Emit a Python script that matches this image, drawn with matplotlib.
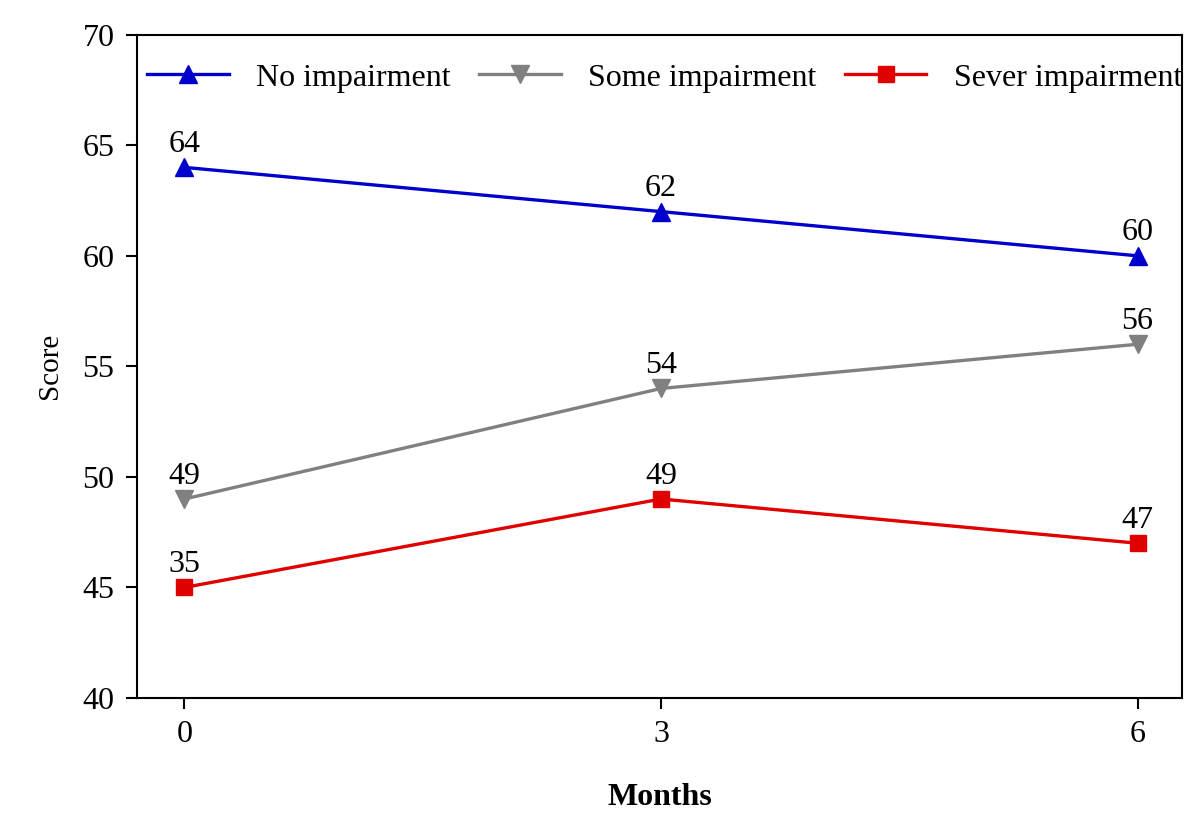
import matplotlib.pyplot as plt

months = [0, 3, 6]
no_imp = [64, 62, 60]
some_imp = [49, 54, 56]
sever_imp = [45, 49, 47]
# labels printed on the chart (the first red one reads 35 in the original)
no_lbl = ['64', '62', '60']
some_lbl = ['49', '54', '56']
sever_lbl = ['35', '49', '47']

plt.rcParams['font.family'] = ['Liberation Serif', 'DejaVu Serif']

fig = plt.figure(figsize=(12, 8.27), dpi=100)
ax = fig.add_axes([0.114, 0.156, 0.871, 0.802])

series = [
    (no_imp, no_lbl, '#0000CC', '^', 13, 'No impairment'),
    (some_imp, some_lbl, '#808080', 'v', 13, 'Some impairment'),
    (sever_imp, sever_lbl, '#E00000', 's', 11, 'Sever impairment'),
]
for vals, lbls, col, mk, ms, name in series:
    ax.plot(months, vals, color=col, marker=mk, markersize=ms, linewidth=2.4, label=name)
    for x, y, t in zip(months, vals, lbls):
        ax.annotate(t, (x, y), xytext=(0, 6), textcoords='offset points',
                    ha='center', va='bottom', fontsize=23)

ax.set_xlim(-0.3, 6.28)
ax.set_ylim(40, 70)
ax.set_xticks(months)
ax.set_yticks(range(40, 71, 5))
ax.tick_params(direction='out', length=8, width=1.5, labelsize=23, pad=8)
for s in ax.spines.values():
    s.set_linewidth(1.5)

ax.set_xlabel('Months', fontsize=23, fontweight='bold', labelpad=24)
ax.set_ylabel('Score', fontsize=21, labelpad=14)

ax.legend(loc='upper left', ncol=3, frameon=False, fontsize=23,
          bbox_to_anchor=(0.01, 0.957), handlelength=2.55, columnspacing=0.9,
          handletextpad=0.85, borderaxespad=0, borderpad=0)

fig.savefig('out.png', dpi=100)
